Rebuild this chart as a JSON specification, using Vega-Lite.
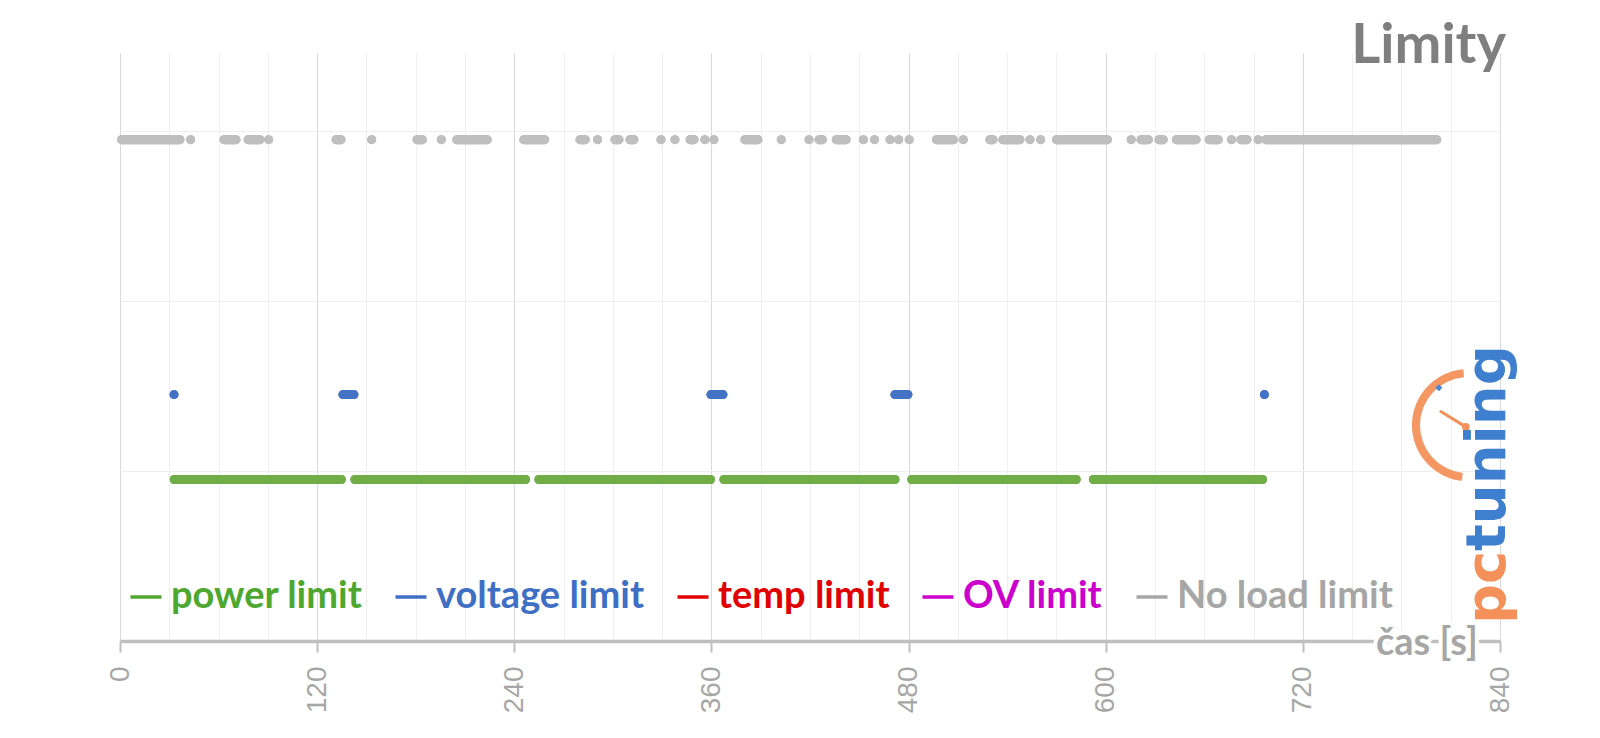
{
  "$schema": "https://vega.github.io/schema/vega-lite/v6.json",
  "width": 1380,
  "height": 588,
  "autosize": {"type": "none"},
  "padding": {"left": 120, "top": 53, "right": 100, "bottom": 97},
  "background": "white",
  "config": {"view": {"stroke": null}},
  "title": {"text": "Limity", "anchor": "end", "frame": "group", "font": "Lato", "fontSize": 56, "fontWeight": "bold", "color": "#7f7f7f", "baseline": "alphabetic", "offset": -66, "dx": 6},
  "data": {"values": [
    {"series": "power limit", "level": 0.95, "t": 33, "t2": 134.7},
    {"series": "power limit", "level": 0.95, "t": 143, "t2": 246.8},
    {"series": "power limit", "level": 0.95, "t": 255, "t2": 359.4},
    {"series": "power limit", "level": 0.95, "t": 367.6, "t2": 471.7},
    {"series": "power limit", "level": 0.95, "t": 482, "t2": 582},
    {"series": "power limit", "level": 0.95, "t": 592.5, "t2": 695.4},
    {"series": "voltage limit", "level": 1.45, "t": 32.9, "t2": 32.9},
    {"series": "voltage limit", "level": 1.45, "t": 135.7, "t2": 142.4},
    {"series": "voltage limit", "level": 1.45, "t": 359.7, "t2": 367},
    {"series": "voltage limit", "level": 1.45, "t": 471.7, "t2": 479.6},
    {"series": "voltage limit", "level": 1.45, "t": 696.6, "t2": 696.6},
    {"series": "No load limit", "level": 2.95, "t": 1, "t2": 36.5},
    {"series": "No load limit", "level": 2.95, "t": 43, "t2": 43},
    {"series": "No load limit", "level": 2.95, "t": 63.3, "t2": 70.6},
    {"series": "No load limit", "level": 2.95, "t": 78, "t2": 85.2},
    {"series": "No load limit", "level": 2.95, "t": 90.5, "t2": 90.5},
    {"series": "No load limit", "level": 2.95, "t": 131.5, "t2": 134.5},
    {"series": "No load limit", "level": 2.95, "t": 153.2, "t2": 153.2},
    {"series": "No load limit", "level": 2.95, "t": 180.8, "t2": 184},
    {"series": "No load limit", "level": 2.95, "t": 195.6, "t2": 195.6},
    {"series": "No load limit", "level": 2.95, "t": 205, "t2": 223.5},
    {"series": "No load limit", "level": 2.95, "t": 245.8, "t2": 258.5},
    {"series": "No load limit", "level": 2.95, "t": 280, "t2": 283.2},
    {"series": "No load limit", "level": 2.95, "t": 290.7, "t2": 290.7},
    {"series": "No load limit", "level": 2.95, "t": 301.3, "t2": 303.7},
    {"series": "No load limit", "level": 2.95, "t": 310.4, "t2": 312.8},
    {"series": "No load limit", "level": 2.95, "t": 329.3, "t2": 329.3},
    {"series": "No load limit", "level": 2.95, "t": 337.8, "t2": 337.8},
    {"series": "No load limit", "level": 2.95, "t": 347, "t2": 349.4},
    {"series": "No load limit", "level": 2.95, "t": 356, "t2": 356},
    {"series": "No load limit", "level": 2.95, "t": 361.5, "t2": 361.5},
    {"series": "No load limit", "level": 2.95, "t": 380.4, "t2": 388.3},
    {"series": "No load limit", "level": 2.95, "t": 402.5, "t2": 402.5},
    {"series": "No load limit", "level": 2.95, "t": 419.4, "t2": 419.4},
    {"series": "No load limit", "level": 2.95, "t": 425.5, "t2": 427.5},
    {"series": "No load limit", "level": 2.95, "t": 436, "t2": 442},
    {"series": "No load limit", "level": 2.95, "t": 452.5, "t2": 452.5},
    {"series": "No load limit", "level": 2.95, "t": 459.3, "t2": 459.3},
    {"series": "No load limit", "level": 2.95, "t": 468.7, "t2": 468.7},
    {"series": "No load limit", "level": 2.95, "t": 474, "t2": 474},
    {"series": "No load limit", "level": 2.95, "t": 480.4, "t2": 480.4},
    {"series": "No load limit", "level": 2.95, "t": 497, "t2": 507.3},
    {"series": "No load limit", "level": 2.95, "t": 513.3, "t2": 513.3},
    {"series": "No load limit", "level": 2.95, "t": 529.5, "t2": 531.4},
    {"series": "No load limit", "level": 2.95, "t": 537.4, "t2": 547.8},
    {"series": "No load limit", "level": 2.95, "t": 553.9, "t2": 553.9},
    {"series": "No load limit", "level": 2.95, "t": 560.4, "t2": 560.4},
    {"series": "No load limit", "level": 2.95, "t": 570, "t2": 601},
    {"series": "No load limit", "level": 2.95, "t": 615.5, "t2": 615.5},
    {"series": "No load limit", "level": 2.95, "t": 621.5, "t2": 626},
    {"series": "No load limit", "level": 2.95, "t": 632.4, "t2": 635},
    {"series": "No load limit", "level": 2.95, "t": 643, "t2": 655},
    {"series": "No load limit", "level": 2.95, "t": 663, "t2": 668.5},
    {"series": "No load limit", "level": 2.95, "t": 676.6, "t2": 676.6},
    {"series": "No load limit", "level": 2.95, "t": 682.3, "t2": 686},
    {"series": "No load limit", "level": 2.95, "t": 692.8, "t2": 692.8},
    {"series": "No load limit", "level": 2.95, "t": 697.5, "t2": 801.5}
  ]},
  "layer": [
    {
      "mark": {"type": "rule", "strokeCap": "round"},
      "encoding": {
        "x": {"field": "t", "type": "quantitative",
          "scale": {"domain": [0, 840], "nice": false, "zero": true},
          "axis": {
            "values": [0,15,30,45,60,75,90,105,120,135,150,165,180,195,210,225,240,255,270,285,300,315,330,345,360,375,390,405,420,435,450,465,480,495,510,525,540,555,570,585,600,615,630,645,660,675,690,705,720,735,750,765,780,795,810,825,840],
            "title": null,
            "grid": true,
            "gridColor": {"condition": {"test": "datum.value % 120 === 0", "value": "#d9d9d9"}, "value": "#efefef"},
            "gridWidth": 1,
            "domainColor": "#bfbfbf", "domainWidth": 3.5,
            "tickColor": "#bfbfbf", "tickWidth": 2, "tickSize": 11,
            "tickOpacity": {"condition": {"test": "datum.value % 120 === 0", "value": 1}, "value": 0},
            "labelExpr": "datum.value % 120 === 0 ? datum.label : ''",
            "labelAngle": 270, "labelFont": "Liberation Sans", "labelFontSize": 28, "labelColor": "#a6a6a6",
            "labelPadding": 14, "labelOverlap": false, "labelBound": false, "labelFlush": false
          }},
        "x2": {"field": "t2"},
        "y": {"field": "level", "type": "quantitative",
          "scale": {"domain": [0, 3.46], "nice": false},
          "axis": {"values": [1, 2, 3], "grid": true, "gridColor": "#efefef", "domain": false, "ticks": false, "labels": false, "title": null}},
        "color": {"field": "series", "type": "nominal",
          "scale": {"domain": ["power limit", "voltage limit", "temp limit", "OV limit", "No load limit"],
                    "range": ["#4ea72e", "#3f6fc4", "#e00000", "#cc00cc", "#a6a6a6"]},
          "legend": {"orient": "none", "legendX": 7, "legendY": 525, "direction": "horizontal", "title": null,
            "symbolType": "stroke", "symbolSize": 961, "symbolStrokeWidth": 3.5,
            "labelFont": "Lato", "labelFontSize": 38, "labelFontWeight": "bold", "labelOffset": 6,
            "columnPadding": 25, "labelLimit": 0,
            "encode": {"labels": {"update": {"fill": {"scale": "color", "field": "value"}}}}}},
        "size": {"field": "series", "type": "nominal",
          "scale": {"domain": ["power limit", "voltage limit", "No load limit"], "range": [9, 9, 6.5]}, "legend": null}
      }
    },
    {
      "mark": {"type": "rule", "strokeCap": "round"},
      "encoding": {
        "x": {"field": "t", "type": "quantitative"},
        "x2": {"field": "t2"},
        "y": {"field": "level", "type": "quantitative"},
        "stroke": {"field": "series", "type": "nominal",
          "scale": {"domain": ["power limit", "voltage limit", "No load limit"], "range": ["#70ad47", "#4472c4", "#bfbfbf"]},
          "legend": null},
        "size": {"field": "series", "type": "nominal", "legend": null}
      }
    },
    {
      "data": {"values": [{"label": "čas [s]"}]},
      "mark": {"type": "text", "align": "right", "baseline": "middle", "dy": 3, "font": "Lato", "fontSize": 38, "fontWeight": "bold", "fill": "white", "stroke": "white", "strokeWidth": 8, "strokeJoin": "round"},
      "encoding": {"x": {"datum": 826.5}, "y": {"datum": 0}, "text": {"field": "label"}}
    },
    {
      "data": {"values": [{"label": "čas [s]"}]},
      "mark": {"type": "text", "align": "right", "baseline": "middle", "dy": 3, "font": "Lato", "fontSize": 38, "fontWeight": "bold", "fill": "#a6a6a6"},
      "encoding": {"x": {"datum": 826.5}, "y": {"datum": 0}, "text": {"field": "label"}}
    },
    {
      "data": {"values": [{"label": "gauge"}]},
      "mark": {"type": "arc", "theta": 3.25, "theta2": 6.2, "innerRadius": 48, "outerRadius": 56, "fill": "#f4915a", "opacity": 0.95},
      "encoding": {"x": {"datum": 820.5}, "y": {"datum": 1.27}}
    },
    {
      "data": {"values": [{"label": "needle"}]},
      "mark": {"type": "rule", "stroke": "#f4915a", "strokeWidth": 3, "strokeCap": "round"},
      "encoding": {"x": {"datum": 819.2}, "x2": {"datum": 804}, "y": {"datum": 1.26}, "y2": {"datum": 1.35}}
    },
    {
      "data": {"values": [{"label": "hub"}]},
      "mark": {"type": "point", "filled": true, "size": 60, "color": "#f4915a", "opacity": 1},
      "encoding": {"x": {"datum": 819.2}, "y": {"datum": 1.26}}
    },
    {
      "data": {"values": [{"label": "mark"}]},
      "mark": {"type": "point", "filled": true, "shape": "diamond", "size": 50, "color": "#4a86d0", "opacity": 1},
      "encoding": {"x": {"datum": 802.8}, "y": {"datum": 1.49}}
    },
    {
      "data": {"values": [{"label": "tuning"}]},
      "mark": {"type": "text", "align": "left", "baseline": "alphabetic", "angle": 270, "font": "DejaVu Sans", "fontSize": 56, "fontWeight": "bold", "fill": "#3f7fcf"},
      "encoding": {"x": {"datum": 843}, "y": {"datum": 0.53}, "text": {"field": "label"}}
    },
    {
      "data": {"values": [{"label": "pc"}]},
      "mark": {"type": "text", "align": "left", "baseline": "alphabetic", "angle": 270, "font": "DejaVu Sans", "fontSize": 56, "fontWeight": "bold", "fill": "#f4915a"},
      "encoding": {"x": {"datum": 843}, "y": {"datum": 0.1}, "text": {"field": "label"}}
    }
  ]
}
